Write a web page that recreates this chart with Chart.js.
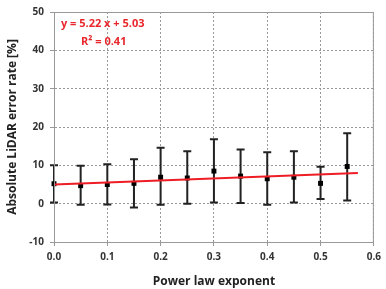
<!DOCTYPE html>
<html lang="en">
<head>
    <meta charset="UTF-8">
    <title>LiDAR error vs power law exponent</title>
    <script src="https://cdn.jsdelivr.net/npm/chart.js"></script>
    <style>
        html, body { margin: 0; padding: 0; background: #fff; }
        #wrap { width: 386px; height: 289px; }
    </style>
</head>
<body>
<div id="wrap"><canvas id="chart"></canvas></div>

<script>
    // data
    const exponents = [0.0, 0.05, 0.1, 0.15, 0.2, 0.25, 0.3, 0.35, 0.4, 0.45, 0.5, 0.55];
    const errorMean = [5.2, 4.7, 5.0, 5.3, 6.9, 6.7, 8.5, 7.2, 6.5, 6.9, 5.3, 9.7];
    const errorUpper = [10.0, 9.9, 10.3, 11.6, 14.6, 13.7, 16.8, 14.1, 13.4, 13.7, 9.6, 18.4];
    const errorLower = [0.3, -0.3, -0.2, -1.0, -0.3, 0.0, 0.3, 0.2, -0.3, 0.3, 1.2, 0.8];

    // linear fit y = 5.22x + 5.03, end points
    const fitX = [0.0, 0.57];
    const fitY = [5.03, 8.01];

    const xTicks = [0.0, 0.1, 0.2, 0.3, 0.4, 0.5, 0.6];
    const yTicks = [-10, 0, 10, 20, 30, 40, 50];

    const fitLabel = 'y = 5.22 x + 5.03';
    const r2Label = 'R\u00b2 = 0.41';

    const fontFamily = "'Open Sans', 'Noto Sans', sans-serif";

    // error bars + frame + equation text
    const errorBarPlugin = {
        id: 'errorBars',
        beforeDatasetsDraw(chart) {
            const ctx = chart.ctx;
            const xs = chart.scales.x;
            const ys = chart.scales.y;
            ctx.save();
            ctx.strokeStyle = '#222';
            ctx.lineWidth = 2;
            for (let i = 0; i < exponents.length; i++) {
                const px = xs.getPixelForValue(exponents[i]);
                const top = ys.getPixelForValue(errorUpper[i]);
                const bot = ys.getPixelForValue(errorLower[i]);
                ctx.beginPath();
                ctx.moveTo(px, top);
                ctx.lineTo(px, bot);
                ctx.moveTo(px - 4, top);
                ctx.lineTo(px + 4, top);
                ctx.moveTo(px - 4, bot);
                ctx.lineTo(px + 4, bot);
                ctx.stroke();
            }
            ctx.restore();
        },
        afterDraw(chart) {
            const ctx = chart.ctx;
            const a = chart.chartArea;
            ctx.save();
            ctx.strokeStyle = '#999';
            ctx.lineWidth = 1;
            ctx.strokeRect(a.left + 0.5, a.top + 0.5, a.right - a.left - 1, a.bottom - a.top);
            ctx.fillStyle = '#e8262b';
            ctx.font = "bold 11px " + fontFamily;
            ctx.textBaseline = 'middle';
            ctx.fillText(fitLabel, a.left + 7, a.top + 12);
            ctx.fillText(r2Label, a.left + 27, a.top + 30);
            ctx.restore();
        }
    };

    const ctx = document.getElementById('chart').getContext('2d');
    const chart = new Chart(ctx, {
        type: 'scatter',
        data: {
            datasets: [
                {
                    type: 'line',
                    data: fitX.map((x, i) => ({ x: x, y: fitY[i] })),
                    borderColor: '#ee1c24',
                    borderWidth: 2,
                    pointRadius: 0,
                    fill: false
                },
                {
                    data: exponents.map((x, i) => ({ x: x, y: errorMean[i] })),
                    pointStyle: 'rect',
                    pointRadius: 3.5,
                    backgroundColor: '#000',
                    borderColor: '#000',
                    borderWidth: 0,
                    clip: false
                }
            ]
        },
        options: {
            responsive: true,
            maintainAspectRatio: false,
            animation: false,
            layout: { padding: { top: 9, right: 9, bottom: 0, left: 0 } },
            plugins: {
                legend: { display: false },
                tooltip: { enabled: false }
            },
            scales: {
                x: {
                    type: 'linear',
                    min: 0,
                    max: 0.6,
                    afterBuildTicks: (scale) => { scale.ticks = xTicks.map(v => ({ value: v })); },
                    afterFit: (scale) => { scale.height = 47; },
                    ticks: {
                        color: '#333',
                        font: { family: fontFamily, size: 10, weight: 'bold' },
                        padding: 5,
                        maxRotation: 0,
                        callback: (v) => v.toFixed(1)
                    },
                    grid: { color: '#999', lineWidth: 1, tickLength: 4 },
                    border: { color: '#999', width: 1, dash: [2, 2] },
                    title: {
                        display: true,
                        text: 'Power law exponent',
                        color: '#222',
                        font: { family: fontFamily, size: 12, weight: 'bold' },
                        padding: { top: 0, bottom: 0 }
                    }
                },
                y: {
                    min: -10,
                    max: 50,
                    afterBuildTicks: (scale) => { scale.ticks = yTicks.map(v => ({ value: v })); },
                    afterFit: (scale) => { scale.width = 54; },
                    ticks: {
                        color: '#333',
                        font: { family: fontFamily, size: 10, weight: 'bold' },
                        padding: 6
                    },
                    grid: { color: '#999', lineWidth: 1, tickLength: 4 },
                    border: { color: '#999', width: 1, dash: [2, 2] },
                    title: {
                        display: true,
                        text: 'Absolute LiDAR error rate [%]',
                        color: '#222',
                        font: { family: fontFamily, size: 12, weight: 'bold' },
                        padding: { top: 5, bottom: 0 }
                    }
                }
            }
        },
        plugins: [errorBarPlugin]
    });
</script>
</body>
</html>
